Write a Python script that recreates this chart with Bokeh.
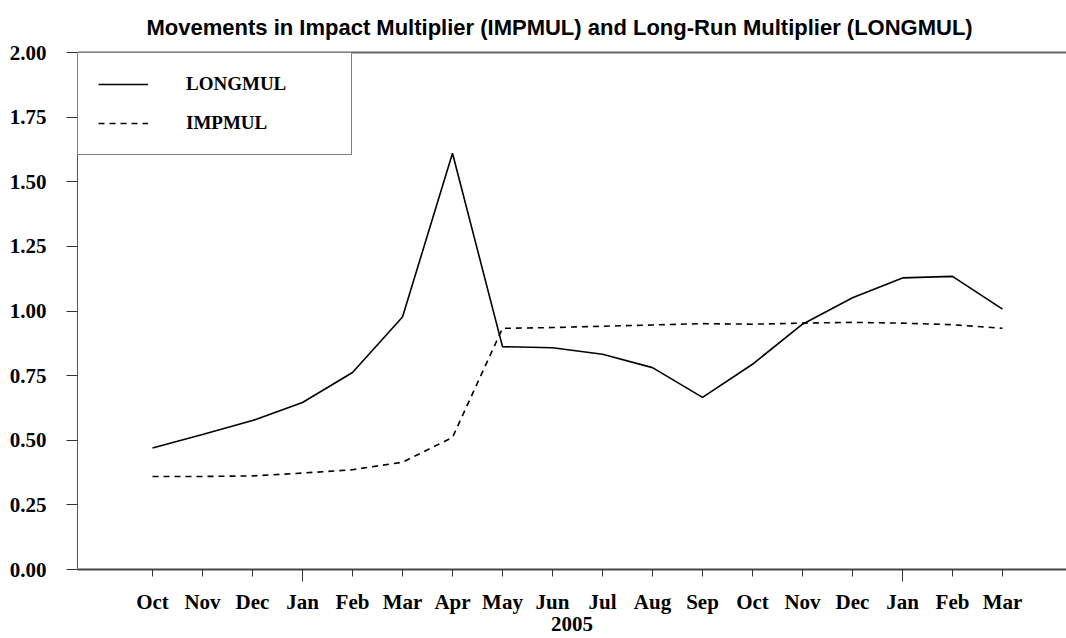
from bokeh.plotting import figure
from bokeh.models import (Range1d, LinearAxis, FixedTicker, CustomJSTickFormatter,
                          Legend, LegendItem)
from bokeh.embed import file_html
from bokeh.resources import INLINE

months = ["Oct", "Nov", "Dec", "Jan", "Feb", "Mar", "Apr", "May", "Jun", "Jul",
          "Aug", "Sep", "Oct", "Nov", "Dec", "Jan", "Feb", "Mar"]
longmul = [0.470, 0.522, 0.576, 0.646, 0.762, 0.977, 1.610, 0.862, 0.858, 0.833,
           0.781, 0.666, 0.794, 0.949, 1.051, 1.128, 1.134, 1.007]
impmul = [0.360, 0.360, 0.362, 0.373, 0.386, 0.415, 0.511, 0.933, 0.936, 0.941,
          0.946, 0.951, 0.949, 0.953, 0.956, 0.953, 0.947, 0.933]
year_ticks = [3, 15]
y_ticks = [0.0, 0.25, 0.5, 0.75, 1.0, 1.25, 1.5, 1.75, 2.0]
xs = list(range(len(months)))

SERIF = "Liberation Serif"

p = figure(width=1066, height=638, output_backend="svg", toolbar_location=None,
           x_range=Range1d(-1.5, 18.28), y_range=Range1d(0, 2.0),
           x_axis_type=None, y_axis_type=None,
           min_border_left=77, min_border_right=0, min_border_top=51,
           min_border_bottom=69)
p.outline_line_color = None
p.grid.visible = False
p.background_fill_color = "white"

p.title.text = "Movements in Impact Multiplier (IMPMUL) and Long-Run Multiplier (LONGMUL)"
p.title.text_font = "Liberation Sans"
p.title.text_font_style = "bold"
p.title.text_font_size = "22px"
p.title.align = "left"
p.title.offset = 69
p.title.standoff = 25
p.title.text_color = "black"

# x axis
xaxis = LinearAxis(ticker=FixedTicker(ticks=xs, minor_ticks=year_ticks),
                   formatter=CustomJSTickFormatter(args=dict(labels=months),
                                                   code="return labels[Math.round(tick)] || '';"))
xaxis.major_tick_out = 7
xaxis.major_tick_in = 0
xaxis.minor_tick_out = 12
xaxis.minor_tick_in = 0
xaxis.major_tick_line_color = "#333333"
xaxis.minor_tick_line_color = "#333333"
xaxis.axis_line_color = "#444444"
xaxis.axis_line_width = 2
xaxis.major_label_text_font = SERIF
xaxis.major_label_text_font_style = "bold"
xaxis.major_label_text_font_size = "21px"
xaxis.major_label_text_color = "black"
xaxis.major_label_standoff = 8
xaxis.axis_label = "2005"
xaxis.axis_label_text_font = SERIF
xaxis.axis_label_text_font_style = "bold"
xaxis.axis_label_text_font_size = "21px"
xaxis.axis_label_text_color = "black"
xaxis.axis_label_standoff = 0
p.add_layout(xaxis, "below")

# y axis
yaxis = LinearAxis(ticker=FixedTicker(ticks=y_ticks, minor_ticks=[]))
yaxis.formatter = CustomJSTickFormatter(code="return tick.toFixed(2);")
yaxis.major_tick_out = 11
yaxis.major_tick_in = 0
yaxis.minor_tick_out = 0
yaxis.major_tick_line_color = "#333333"
yaxis.axis_line_color = "#555555"
yaxis.axis_line_width = 1
yaxis.major_label_text_font = SERIF
yaxis.major_label_text_font_style = "bold"
yaxis.major_label_text_font_size = "21px"
yaxis.major_label_text_color = "black"
yaxis.major_label_standoff = 20
p.add_layout(yaxis, "left")

# top line
top = LinearAxis(ticker=FixedTicker(ticks=[]))
top.major_label_text_font_size = "0px"
top.major_tick_out = 0
top.minor_tick_out = 0
top.axis_line_color = "#666666"
top.axis_line_width = 2
p.add_layout(top, "above")

r1 = p.line(xs, longmul, line_color="black", line_width=1.6)
r2 = p.line(xs, impmul, line_color="black", line_width=1.6, line_dash="6 5")

legend = Legend(items=[LegendItem(label="LONGMUL", renderers=[r1]),
                       LegendItem(label="IMPMUL", renderers=[r2])],
                location="top_left", margin=0, padding=20, spacing=17,
                glyph_width=50, glyph_height=20, label_height=20,
                label_standoff=38, label_width=145,
                border_line_color="black", border_line_width=1.2,
                background_fill_color="white", background_fill_alpha=1.0,
                label_text_font=SERIF, label_text_font_style="bold",
                label_text_font_size="19px", label_text_color="black")
p.add_layout(legend, "center")

open("out.html", "w").write(file_html(p, INLINE))
